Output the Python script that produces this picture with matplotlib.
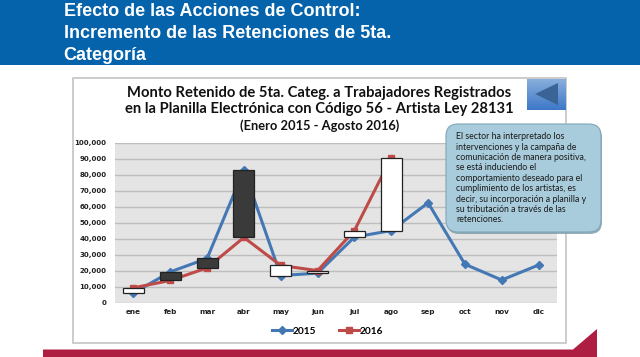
import matplotlib
matplotlib.use('Agg')
import matplotlib.pyplot as plt
from matplotlib.patches import Rectangle, FancyBboxPatch, Polygon
import numpy as np

W = 640
H = 357

meses = ['ene', 'feb', 'mar', 'abr', 'may', 'jun', 'jul', 'ago', 'sep', 'oct', 'nov', 'dic']
serie_2015 = [5900, 19200, 27600, 83000, 16900, 18400, 41000, 45100, 62500, 24000, 14100, 23500]
serie_2016 = [9200, 13800, 21700, 40800, 23200, 20000, 45100, 90800]
yticks = [0, 10000, 20000, 30000, 40000, 50000, 60000, 70000, 80000, 90000, 100000]

cabecera = ['Efecto de las Acciones de Control:',
            'Incremento de las Retenciones de 5ta.',
            'Categoría']
titulo = ['Monto Retenido de 5ta. Categ. a Trabajadores Registrados',
          'en la Planilla Electrónica con Código 56 - Artista Ley 28131']
subtitulo = '(Enero 2015 - Agosto 2016)'
nota = ['El sector ha interpretado los',
        'intervenciones y la campaña de',
        'comunicación de manera positiva,',
        'se está induciendo el',
        'comportamiento deseado para el',
        'cumplimiento de los artistas, es',
        'decir, su incorporación a planilla y',
        'su tributación a través de las',
        'retenciones.']

fig = plt.figure(figsize=(W / 100, H / 100), dpi=100, facecolor='white')

# capa de fondo en pixeles (y hacia abajo)
bg = fig.add_axes([0, 0, 1, 1], zorder=0)
bg.set_xlim(0, W)
bg.set_ylim(H, 0)
bg.axis('off')

bg.add_patch(Rectangle((0, 0), W, 65, fc='#0563AC', ec='none'))
for i, t in enumerate(cabecera):
    bg.text(63.5, 11 + i * 22, t, color='white', fontsize=12.95, fontweight='bold',
            family='Liberation Sans', va='center', ha='left')

# marco del grafico
bg.add_patch(Rectangle((73, 78), 493, 264.5, fc='white', ec='#BEBEBE', lw=1.1))

# franja inferior
bg.add_patch(Polygon([(43, 357), (43, 349.5), (573, 349.5), (597, 329), (597, 357)],
                     fc='#AE1E42', ec='none'))

# titulos
for i, t in enumerate(titulo):
    bg.text(319.5, 93 + i * 16.5, t, fontsize=10.65, fontweight='bold', family='Lato',
            color='#111111', ha='center', va='center')
bg.text(319.5, 126, subtitulo, fontsize=9.3, fontweight='bold', family='Lato',
        color='#111111', ha='center', va='center')

# eje principal
x0, x1 = 115, 557
y_top, y_bot = 143, 302.5
ax = fig.add_axes([x0 / W, 1 - y_bot / H, (x1 - x0) / W, (y_bot - y_top) / H], zorder=1)
ax.set_facecolor('#E4E4E4')
x = np.arange(len(meses))
ax.set_xlim(-0.5, 11.5)
ax.set_ylim(0, 100000)
ax.set_yticks(yticks)
ax.set_yticklabels(['{:,}'.format(v) for v in yticks], fontsize=5, fontweight='bold', color='#222222')
ax.set_xticks(x)
ax.set_xticklabels(meses, fontsize=5.2, fontweight='bold', color='#222222')
ax.tick_params(axis='x', length=0, pad=5)
ax.tick_params(axis='y', length=0, pad=6)
ax.grid(axis='y', color='#BDBDBD', lw=1)
ax.set_axisbelow(True)
for s in ax.spines.values():
    s.set_visible(False)

l1, = ax.plot(x, serie_2015, color='#4478B4', lw=2.2, marker='D', ms=4, zorder=2, label='2015')
l2, = ax.plot(x[:len(serie_2016)], serie_2016, color='#BE4B48', lw=2.2, marker='s', ms=4, zorder=2.5, label='2016')

# barras arriba/abajo entre las dos series
for i, v16 in enumerate(serie_2016):
    v15 = serie_2015[i]
    col = 'white' if v16 > v15 else '#3A3A3A'
    ax.bar(x[i], abs(v16 - v15), bottom=min(v15, v16), width=0.57, color=col,
           edgecolor='#222222', lw=0.9, zorder=3)

fig.legend(handles=[l1, l2], loc='center', bbox_to_anchor=(327.5 / W, 1 - 331 / H), ncol=2,
           frameon=False, handlelength=2.0, columnspacing=2.3, handletextpad=0,
           prop={'family': 'Lato', 'weight': 'bold', 'size': 7.3})

# capa superior: boton y nota
top = fig.add_axes([0, 0, 1, 1], zorder=2)
top.set_xlim(0, W)
top.set_ylim(H, 0)
top.axis('off')
top.patch.set_alpha(0)

top.imshow(np.linspace(0, 1, 40).reshape(-1, 1), extent=(527, 566, 110, 79), aspect='auto', origin='upper',
           cmap=matplotlib.colors.LinearSegmentedColormap.from_list('b', ['#88AEDC', '#3D78C8']))
top.set_xlim(0, W)
top.set_ylim(H, 0)
top.add_patch(Polygon([(535, 94), (558, 83), (558, 105)], fc='#3A6496', ec='none'))

top.add_patch(FancyBboxPatch((459, 138), 131, 84, boxstyle='round,pad=12,rounding_size=12',
                             fc='#7D99A8', ec='none', alpha=0.8))
top.add_patch(FancyBboxPatch((458, 136), 131, 84, boxstyle='round,pad=12,rounding_size=12',
                             fc='#A8CCDB', ec='#7FA6B8', lw=0.8))
for i, t in enumerate(nota):
    top.text(456, 136.7 + i * 10.4, t, fontsize=6.35, family='Lato', color='#1A1A1A',
             ha='left', va='center')

fig.savefig('out.png', dpi=100)
